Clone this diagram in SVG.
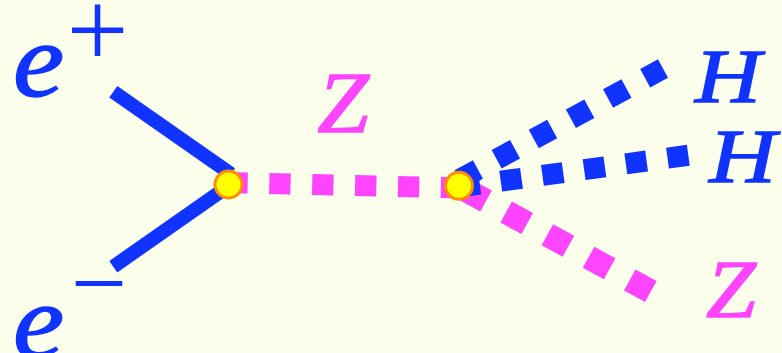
<svg xmlns="http://www.w3.org/2000/svg" width="782" height="353" viewBox="0 0 782 353">
<style>
.fermion{stroke:#1133ff;stroke-width:14;fill:none;stroke-linecap:butt}
.zline{stroke:#ff44ff;fill:none;stroke-linecap:butt}
.hline{stroke:#1133ff;stroke-width:21;fill:none;stroke-linecap:butt}
.vtx{fill:#ffff00;stroke:#ff8c00;stroke-width:3}
.lbl{font-family:"Liberation Serif","Times New Roman",serif;font-style:italic;stroke-width:1.4}
.sym{font-family:"Liberation Serif","Times New Roman",serif}
.blue{fill:#1133ff}
.lbl.blue{stroke:#1133ff}
.mag{fill:#ff44ff;stroke:#ff44ff}
</style>
<rect width="782" height="353" fill="#fbfeea"/>
<g id="connectors">
<line class="zline" x1="226.4" y1="182.5" x2="462" y2="188" stroke-width="21" stroke-dasharray="21.3 21.6"/>
<line class="zline" x1="465" y1="189.4" x2="651" y2="291.6" stroke-width="24" stroke-dasharray="24 23"/>
<line class="hline" x1="459.5" y1="179.5" x2="663" y2="68.5" stroke-dasharray="21 21.3"/>
<line class="hline" x1="459" y1="187" x2="690" y2="155" stroke-dasharray="21 21.1"/>
<line class="fermion" x1="113.3" y1="91.7" x2="231" y2="174"/>
<line class="fermion" x1="113.3" y1="266.7" x2="230" y2="185"/>
</g>
<g id="v1"><circle class="vtx" cx="228.5" cy="184.5" r="13.5"/></g>
<g id="v2"><circle class="vtx" cx="459" cy="185.8" r="13.5"/></g>
<g id="eplus">
<text class="lbl blue" transform="translate(38.5,96) scale(1.1,1)" text-anchor="middle" font-size="105">e</text>
<text class="sym blue" x="97.5" y="67" font-size="110" text-anchor="middle">+</text>
</g>
<g id="eminus">
<text class="lbl blue" transform="translate(38.5,357) scale(1.1,1)" text-anchor="middle" font-size="105">e</text>
<text class="sym blue" x="99" y="317" font-size="100" text-anchor="middle">−</text>
</g>
<g id="zlabel"><text class="lbl mag" transform="translate(343,131.7) scale(1.08,1)" font-size="86" text-anchor="middle">Z</text></g>
<g id="h1"><text class="lbl blue" transform="translate(728,101.7) scale(1.2,1)" font-size="76" text-anchor="middle">H</text></g>
<g id="h2"><text class="lbl blue" transform="translate(742.5,181.7) scale(1.2,1)" font-size="77" text-anchor="middle">H</text></g>
<g id="z2"><text class="lbl mag" transform="translate(731,316.7) scale(1.08,1)" font-size="83" text-anchor="middle">Z</text></g>
</svg>
